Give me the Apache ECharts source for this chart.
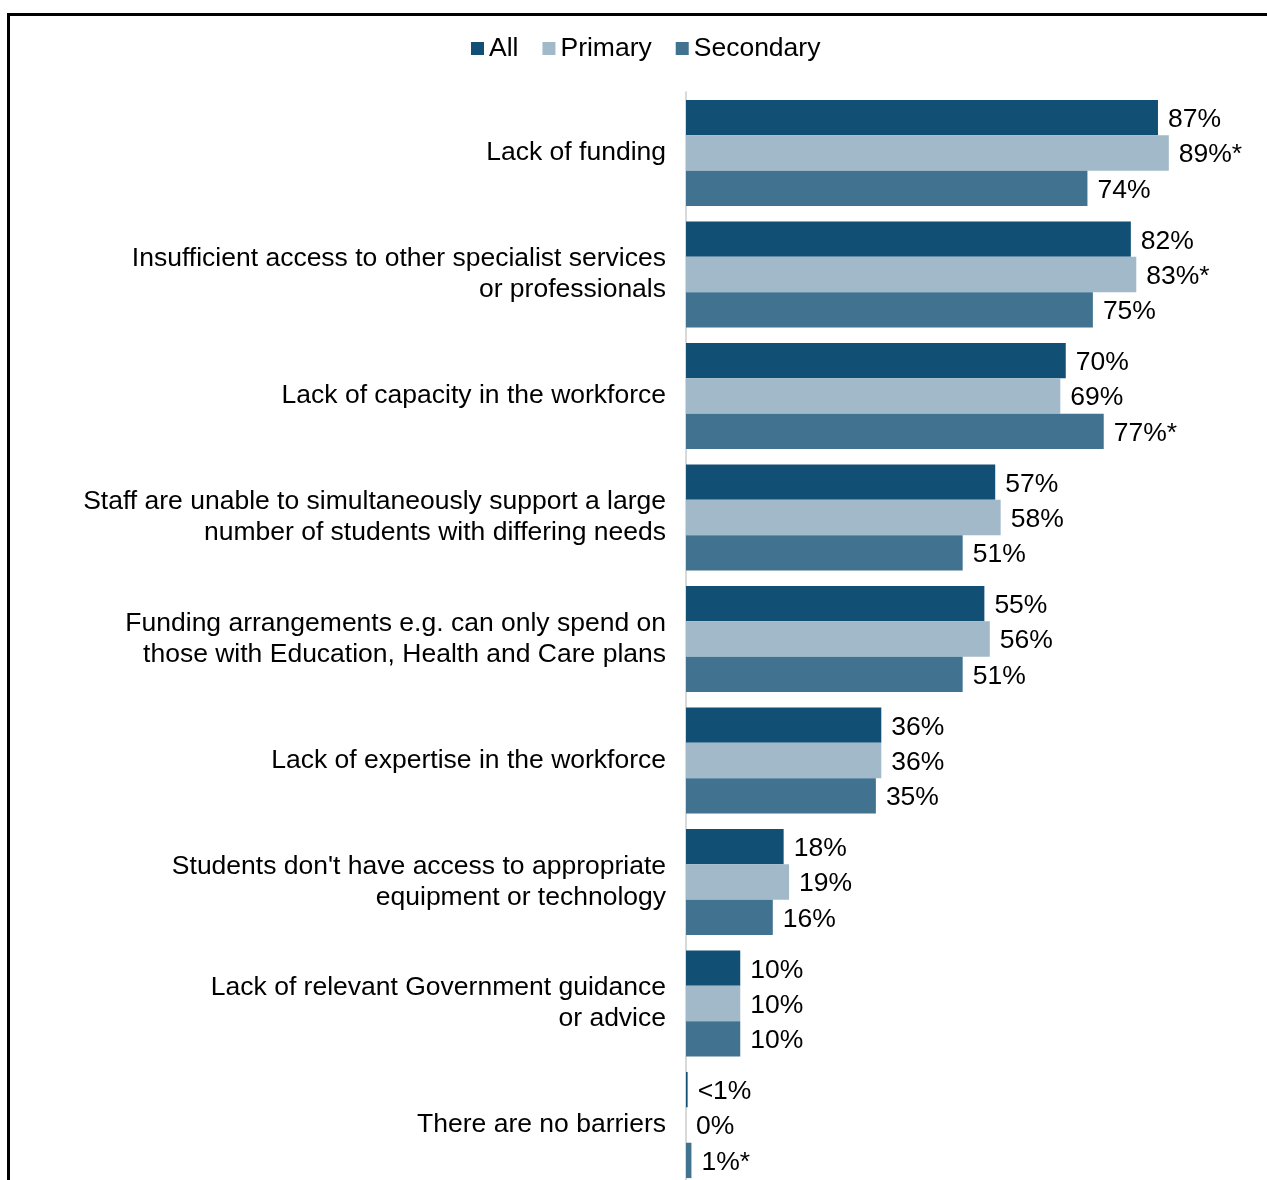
<!DOCTYPE html>
<html>
<head>
<meta charset="utf-8">
<script src="https://cdn.jsdelivr.net/npm/echarts@6/dist/echarts.min.js"></script>
<style>
  html, body { margin: 0; padding: 0; background: #fff; overflow: hidden; }
  #chart { width: 1267px; height: 1200px; }
</style>
</head>
<body>
<div id="chart"></div>
<script>
// Barriers to supporting students, share of schools reporting each (%)
const categories = [
  'Lack of funding',
  'Insufficient access to other specialist services\nor professionals',
  'Lack of capacity in the workforce',
  'Staff are unable to simultaneously support a large\nnumber of students with differing needs',
  'Funding arrangements e.g. can only spend on\nthose with Education, Health and Care plans',
  'Lack of expertise in the workforce',
  "Students don't have access to appropriate\nequipment or technology",
  'Lack of relevant Government guidance\nor advice',
  'There are no barriers'
];

const seriesNames = ['All', 'Primary', 'Secondary'];

const allValues       = [87, 82, 70, 57, 55, 36, 18, 10, 0.3];
const primaryValues   = [89, 83, 69, 58, 56, 36, 19, 10, 0];
const secondaryValues = [74, 75, 77, 51, 51, 35, 16, 10, 1];

// significant difference markers (shown as an asterisk after the value)
const allStars       = [false, false, false, false, false, false, false, false, false];
const primaryStars   = [true,  true,  false, false, false, false, false, false, false];
const secondaryStars = [false, false, true,  false, false, false, false, false, true];

const colors = ['#124F75', '#A2B9CA', '#417391'];

const FONT = 'Arial, "Liberation Sans", sans-serif';
const FONT_SIZE = 26.5;

function fmt(stars) {
  return function (p) {
    const v = p.value;
    let t = (v > 0 && v < 1) ? '<1%' : Math.round(v) + '%';
    if (stars[p.dataIndex]) t += '*';
    return t;
  };
}

function makeSeries(name, values, stars, color) {
  return {
    name: name,
    type: 'bar',
    data: values,
    barGap: '0%',
    barCategoryGap: '12.7%',
    itemStyle: { color: color },
    label: {
      show: true,
      position: 'right',
      distance: 10,
      offset: [0, 2],
      color: '#000',
      fontFamily: FONT,
      fontSize: FONT_SIZE,
      formatter: fmt(stars)
    },
    silent: true
  };
}

const chart = echarts.init(document.getElementById('chart'), null, { renderer: 'canvas' });

chart.setOption({
  backgroundColor: '#fff',
  animation: false,
  textStyle: { fontFamily: FONT },
  legend: {
    left: 471,
    top: 35,
    padding: 0,
    icon: 'rect',
    itemWidth: 13,
    itemHeight: 13,
    itemGap: 24,
    textStyle: { fontSize: FONT_SIZE, color: '#000', fontFamily: FONT },
    data: seriesNames
  },
  grid: {
    left: 686,
    top: 92.3,
    width: 542.5,
    height: 1093.5,
    containLabel: false
  },
  xAxis: {
    type: 'value',
    min: 0,
    max: 100,
    show: false
  },
  yAxis: {
    type: 'category',
    inverse: true,
    data: categories,
    axisLine: { show: true, lineStyle: { color: '#d9d9d9', width: 2 } },
    axisTick: { show: false },
    axisLabel: {
      margin: 20,
      color: '#000',
      fontFamily: FONT,
      fontSize: FONT_SIZE,
      lineHeight: 31,
      align: 'right',
      padding: [4, 0, 0, 0]
    }
  },
  graphic: [
    {
      type: 'rect',
      shape: { x: 8.5, y: 14.5, width: 1400, height: 1400 },
      style: { fill: 'none', stroke: '#000', lineWidth: 3 },
      silent: true,
      z: 100
    }
  ],
  series: [
    makeSeries(seriesNames[0], allValues, allStars, colors[0]),
    makeSeries(seriesNames[1], primaryValues, primaryStars, colors[1]),
    makeSeries(seriesNames[2], secondaryValues, secondaryStars, colors[2])
  ]
});
</script>
</body>
</html>
